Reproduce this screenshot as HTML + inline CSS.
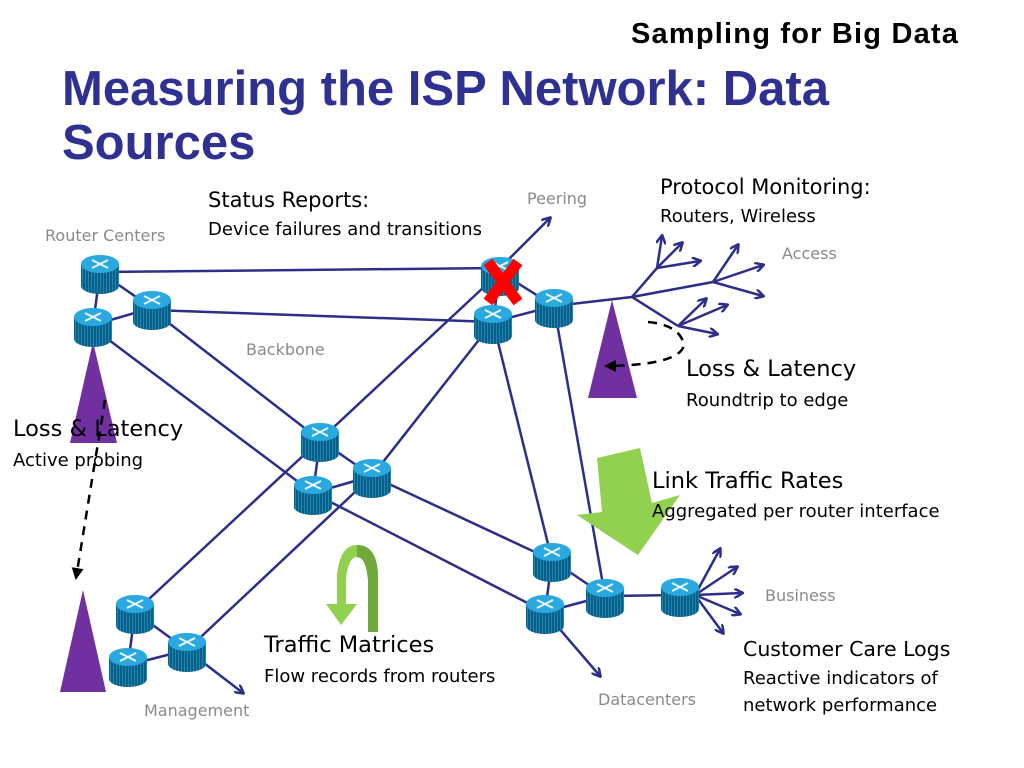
<!DOCTYPE html>
<html><head><meta charset="utf-8"><style>
body{margin:0;width:1024px;height:768px;background:#fff;overflow:hidden;position:relative;font-family:"Liberation Sans",sans-serif}
.t{position:absolute;white-space:nowrap}
.h{font-size:21px;color:#000;font-family:"DejaVu Sans","Liberation Sans",sans-serif}
.s{font-size:18px;color:#000;font-family:"DejaVu Sans","Liberation Sans",sans-serif}
.g{font-size:16px;color:#8a8a8a;font-family:"DejaVu Sans","Liberation Sans",sans-serif}
</style></head><body>
<svg width="1024" height="768" style="position:absolute;left:0;top:0">
<defs>
<pattern id="st" width="3" height="10" patternUnits="userSpaceOnUse"><rect width="3" height="10" fill="#0b5f86"/><rect width="1" height="10" fill="#1b86b3"/></pattern>
<symbol id="r" overflow="visible">
<path d="M-19,-10 L-19,12 A19,8 0 0 0 19,12 L19,-10 Z" fill="url(#st)"/>
<ellipse cx="0" cy="-10" rx="19" ry="9" fill="#29a9e0"/>
<path d="M-8,-14 L8,-6 M8,-14 L-8,-6" stroke="#e8f6ff" stroke-width="2"/>
</symbol>
<marker id="a" markerWidth="10" markerHeight="10" refX="8" refY="5" orient="auto" markerUnits="userSpaceOnUse"><path d="M0,0 L9,5 L0,10" fill="none" stroke="#2e2e8a" stroke-width="2.5"/></marker>
<marker id="b" markerWidth="12" markerHeight="12" refX="10" refY="6" orient="auto" markerUnits="userSpaceOnUse"><path d="M0,0 L12,6 L0,12 Z" fill="#000"/></marker>
</defs>
<g stroke="#2e2e8a" stroke-width="2.5" fill="none">
<line x1="100" y1="272" x2="500" y2="268"/>
<line x1="100" y1="272" x2="93" y2="325"/>
<line x1="100" y1="272" x2="152" y2="308"/>
<line x1="93" y1="325" x2="152" y2="308"/>
<line x1="152" y1="310" x2="493" y2="322"/>
<line x1="152" y1="310" x2="320" y2="440"/>
<line x1="93" y1="328" x2="313" y2="493"/>
<line x1="500" y1="268" x2="550" y2="218" marker-end="url(#a)"/>
<line x1="500" y1="272" x2="554" y2="306"/>
<line x1="500" y1="272" x2="493" y2="322"/>
<line x1="493" y1="322" x2="554" y2="306"/>
<line x1="500" y1="272" x2="320" y2="440"/>
<line x1="493" y1="322" x2="372" y2="476"/>
<line x1="554" y1="306" x2="632" y2="297"/>
<line x1="493" y1="322" x2="552" y2="560"/>
<line x1="554" y1="306" x2="605" y2="596"/>
<line x1="320" y1="440" x2="372" y2="476"/>
<line x1="320" y1="440" x2="313" y2="493"/>
<line x1="313" y1="493" x2="372" y2="476"/>
<line x1="320" y1="440" x2="135" y2="612"/>
<line x1="372" y1="476" x2="187" y2="650"/>
<line x1="372" y1="476" x2="552" y2="560"/>
<line x1="313" y1="493" x2="545" y2="612"/>
<line x1="552" y1="560" x2="545" y2="612"/>
<line x1="552" y1="560" x2="605" y2="596"/>
<line x1="545" y1="612" x2="605" y2="596"/>
<line x1="605" y1="596" x2="680" y2="595"/>
<line x1="545" y1="612" x2="600" y2="676" marker-end="url(#a)"/>
<line x1="135" y1="612" x2="128" y2="665"/>
<line x1="135" y1="612" x2="187" y2="650"/>
<line x1="128" y1="665" x2="187" y2="650"/>
<line x1="187" y1="650" x2="243" y2="693" marker-end="url(#a)"/>
<line x1="695" y1="595" x2="720" y2="549" marker-end="url(#a)"/>
<line x1="695" y1="595" x2="737" y2="567" marker-end="url(#a)"/>
<line x1="695" y1="595" x2="742" y2="593" marker-end="url(#a)"/>
<line x1="695" y1="595" x2="740" y2="614" marker-end="url(#a)"/>
<line x1="695" y1="595" x2="723" y2="633" marker-end="url(#a)"/>
<line x1="632" y1="297" x2="713" y2="282"/>
<line x1="632" y1="297" x2="657" y2="268"/>
<line x1="632" y1="297" x2="678" y2="326"/>
<line x1="657" y1="268" x2="662" y2="236" marker-end="url(#a)"/>
<line x1="657" y1="268" x2="682" y2="243" marker-end="url(#a)"/>
<line x1="657" y1="268" x2="700" y2="261" marker-end="url(#a)"/>
<line x1="713" y1="282" x2="738" y2="245" marker-end="url(#a)"/>
<line x1="713" y1="282" x2="763" y2="265" marker-end="url(#a)"/>
<line x1="713" y1="282" x2="763" y2="296" marker-end="url(#a)"/>
<line x1="678" y1="326" x2="706" y2="299" marker-end="url(#a)"/>
<line x1="678" y1="326" x2="727" y2="305" marker-end="url(#a)"/>
<line x1="678" y1="326" x2="717" y2="334" marker-end="url(#a)"/>
</g>
<polygon points="93,342 117,443 70,443" fill="#7030a0"/>
<polygon points="83,590 106,692 60,692" fill="#7030a0"/>
<polygon points="612,300 637,398 588,398" fill="#7030a0"/>
<polygon points="597,458 640,448 652,503 680,495 638,555 577,515 602,512" fill="#92d050"/>
<path d="M337,615 L337,575 Q340,545 357,545 Q377,545 378,575 L378,632 L368,632 L368,580 Q366,557 357,557 Q348,557 346,580 L346,615 Z" fill="#92d050"/>
<path d="M357,545 Q377,545 378,575 L378,632 L368,632 L368,580 Q366,557 357,557 Z" fill="#70a83c"/>
<polygon points="326,604 357,604 341,625" fill="#92d050"/>
<g>
<use href="#r" x="100" y="274"/><use href="#r" x="152" y="310"/><use href="#r" x="93" y="327"/>
<use href="#r" x="500" y="276"/><use href="#r" x="493" y="324"/><use href="#r" x="554" y="308"/>
<use href="#r" x="320" y="442"/><use href="#r" x="372" y="478"/><use href="#r" x="313" y="495"/>
<use href="#r" x="552" y="562"/><use href="#r" x="545" y="614"/><use href="#r" x="605" y="598"/>
<use href="#r" x="680" y="597"/><use href="#r" x="135" y="614"/><use href="#r" x="187" y="652"/><use href="#r" x="128" y="667"/>
</g>
<path d="M488,262 L518,302 M518,262 L488,302" stroke="#ff0000" stroke-width="11"/>
<line x1="105" y1="400" x2="76" y2="578" stroke="#000" stroke-width="2.5" stroke-dasharray="9,7" marker-end="url(#b)"/>
<path d="M648,322 Q680,325 684,345 Q680,365 606,366" fill="none" stroke="#000" stroke-width="2.5" stroke-dasharray="9,7" marker-end="url(#b)"/>
</svg>
<div class="t" style="left:631px;top:18px;font-size:29px;font-weight:bold;letter-spacing:1.2px">Sampling for Big Data</div>
<div class="t" style="left:62px;top:62px;font-size:49px;font-weight:bold;color:#2e3192;line-height:54px">Measuring the ISP Network: Data<br>Sources</div>
<div class="t h" style="left:208px;top:188px">Status Reports:</div>
<div class="t s" style="left:208px;top:219px">Device failures and transitions</div>
<div class="t g" style="left:527px;top:189px">Peering</div>
<div class="t g" style="left:45px;top:226px">Router Centers</div>
<div class="t h" style="left:660px;top:175px">Protocol Monitoring:</div>
<div class="t s" style="left:660px;top:206px">Routers, Wireless</div>
<div class="t g" style="left:782px;top:244px">Access</div>
<div class="t g" style="left:246px;top:340px">Backbone</div>
<div class="t h" style="left:686px;top:356px;font-size:22.5px">Loss &amp; Latency</div>
<div class="t s" style="left:686px;top:390px">Roundtrip to edge</div>
<div class="t h" style="left:13px;top:416px;font-size:22.5px">Loss &amp; Latency</div>
<div class="t s" style="left:13px;top:450px">Active probing</div>
<div class="t h" style="left:652px;top:468px;font-size:22.5px">Link Traffic Rates</div>
<div class="t s" style="left:652px;top:501px">Aggregated per router interface</div>
<div class="t g" style="left:765px;top:586px">Business</div>
<div class="t h" style="left:264px;top:632px;font-size:22.5px">Traffic Matrices</div>
<div class="t s" style="left:264px;top:666px">Flow records from routers</div>
<div class="t h" style="left:743px;top:637px;font-size:20.5px">Customer Care Logs</div>
<div class="t s" style="left:743px;top:668px">Reactive indicators of</div>
<div class="t s" style="left:743px;top:695px">network performance</div>
<div class="t g" style="left:598px;top:690px">Datacenters</div>
<div class="t g" style="left:144px;top:701px">Management</div>
</body></html>
